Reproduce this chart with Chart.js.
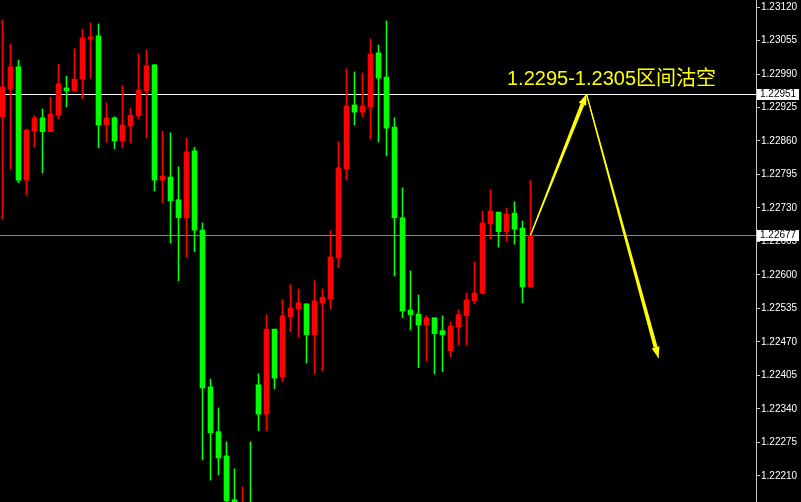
<!DOCTYPE html>
<html><head><meta charset="utf-8">
<script src="https://cdn.jsdelivr.net/npm/chart.js@4/dist/chart.umd.min.js"></script>
<style>html,body{margin:0;padding:0;background:#000;overflow:hidden}#wrap{width:801px;height:502px}</style>
</head><body><div id="wrap"><canvas id="c" width="801" height="502"></canvas></div>
<script>
// ---- data ----
const opens = [1.22907,1.22961,1.23004,1.22784,1.22879,1.22905,1.22878,1.22910,1.22963,1.22957,
1.22980,1.23058,1.23064,1.22891,1.22905,1.22860,1.22889,1.22909,1.22957,1.23008,
1.22784,1.22790,1.22746,1.22711,1.22841,1.22687,1.22383,1.22296,1.22249,1.22164,
1.22135,1.22152,1.22387,1.22330,1.22495,1.22402,1.22519,1.22534,1.22544,1.22484,
1.22546,1.22554,1.22633,1.22806,1.22930,1.22916,1.22926,1.23031,1.22984,1.22887,
1.22711,1.22532,1.22524,1.22503,1.22517,1.22492,1.22453,1.22499,1.22521,1.22550,
1.22565,1.22699,1.22722,1.22684,1.22720,1.22691,1.22577];
const highs = [1.23095,1.23048,1.23017,1.22883,1.22909,1.22922,1.22945,1.23009,1.22986,1.23039,
1.23077,1.23089,1.23087,1.22934,1.22907,1.22967,1.22924,1.23029,1.23037,1.23008,
1.22879,1.22876,1.22810,1.22866,1.22848,1.22701,1.22398,1.22342,1.22276,1.22224,
1.22189,1.22276,1.22408,1.22523,1.22495,1.22552,1.22581,1.22573,1.22544,1.22589,
1.22573,1.22686,1.22858,1.23000,1.22994,1.22992,1.23058,1.23046,1.23093,1.22905,
1.22769,1.22608,1.22561,1.22521,1.22517,1.22521,1.22509,1.22532,1.22565,1.22625,
1.22724,1.22765,1.22722,1.22730,1.22742,1.22705,1.22783];
const lows = [1.22709,1.22806,1.22779,1.22755,1.22848,1.22798,1.22878,1.22903,1.22926,1.22957,
1.22942,1.22982,1.22847,1.22858,1.22845,1.22847,1.22856,1.22903,1.22866,1.22763,
1.22740,1.22662,1.22589,1.22635,1.22645,1.22241,1.22202,1.22212,1.22144,1.22135,
1.22125,1.22125,1.22298,1.22298,1.22379,1.22393,1.22490,1.22480,1.22429,1.22408,
1.22414,1.22534,1.22614,1.22784,1.22891,1.22907,1.22864,1.22858,1.22831,1.22598,
1.22517,1.22493,1.22420,1.22433,1.22408,1.22412,1.22441,1.22464,1.22464,1.22544,
1.22563,1.22670,1.22654,1.22666,1.22660,1.22546,1.22577];
const closes = [1.22965,1.23004,1.22784,1.22881,1.22905,1.22878,1.22912,1.22971,1.22957,1.22980,
1.23060,1.23062,1.22891,1.22905,1.22860,1.22891,1.22910,1.22959,1.23006,1.22784,
1.22792,1.22744,1.22711,1.22839,1.22687,1.22381,1.22294,1.22245,1.22162,1.22152,
1.22154,1.22135,1.22330,1.22495,1.22400,1.22521,1.22536,1.22546,1.22484,1.22550,
1.22557,1.22635,1.22808,1.22928,1.22916,1.22928,1.23029,1.22982,1.22885,1.22711,
1.22530,1.22523,1.22503,1.22517,1.22486,1.22484,1.22501,1.22523,1.22552,1.22565,
1.22701,1.22724,1.22684,1.22718,1.22689,1.22577,1.22677];
const yTicks = [1.23120,1.23055,1.22990,1.22925,1.22860,1.22795,1.22730,1.22665,
1.22600,1.22535,1.22470,1.22405,1.22340,1.22275,1.22210];
const priceLines = [1.22951, 1.22677];
const arrowX = [66, 73, 82];
const arrowY = [1.22677, 1.22951, 1.22439];
const noteText = '1.2295-1.2305区间沽空';

// ---- styling / layout ----
const UP = '#ff0000', DOWN = '#00ff00';
const idx = opens.map((_, i) => i);
const colors = idx.map(i => closes[i] > opens[i] ? UP : DOWN);
const AXIS_W = 45;
const PX_PER_BAR = 8;
const xMin = -2.5 / PX_PER_BAR;
const xMax = xMin + (801 - AXIS_W) / PX_PER_BAR;
const yMax = 1.231336, yMin = 1.221595;
const tickFont = {family: '"Liberation Sans",Arial,sans-serif', size: 10};

const bgPlugin = {
  id: 'bg',
  beforeDraw(chart) {
    const c = chart.ctx; c.save(); c.fillStyle = '#000'; c.fillRect(0, 0, chart.width, chart.height); c.restore();
  }
};

const linesPlugin = {
  id: 'priceLines',
  beforeDatasetsDraw(chart) {
    const c = chart.ctx, y = chart.scales.y, a = chart.chartArea;
    c.save();
    priceLines.forEach((v, k) => {
      const py = Math.round(y.getPixelForValue(v)) + 0.5;
      c.strokeStyle = k === 0 ? '#ffffff' : '#778899';
      c.lineWidth = 1;
      c.beginPath(); c.moveTo(a.left, py); c.lineTo(a.right, py); c.stroke();
    });
    c.restore();
  },
  afterDraw(chart) {
    const c = chart.ctx, y = chart.scales.y, a = chart.chartArea;
    c.save();
    priceLines.forEach((v) => {
      const py = Math.round(y.getPixelForValue(v));
      c.fillStyle = '#ffffff';
      c.fillRect(a.right + 1, py - 5, 42, 11);
      c.fillStyle = '#000000';
      c.font = tickFont.size + 'px ' + tickFont.family;
      c.textBaseline = 'middle'; c.textAlign = 'left';
      c.fillText(v.toFixed(5), a.right + 4, py + 0.5);
    });
    c.restore();
  }
};

const arrowPlugin = {
  id: 'arrows',
  afterDatasetsDraw(chart) {
    const meta = chart.getDatasetMeta(0);
    const pts = meta.data.map(p => ({x: p.x, y: p.y}));
    const c = chart.ctx;
    c.save();
    c.fillStyle = '#ffff00';
    for (let i = 0; i < pts.length - 1; i++) {
      const p0 = pts[i], p1 = pts[i + 1];
      const dx = p1.x - p0.x, dy = p1.y - p0.y, len = Math.hypot(dx, dy);
      const ux = dx / len, uy = dy / len, nx = -uy, ny = ux;
      const headLen = 11, hw = 4, w0 = 0.6, w1 = 2;
      const bx = p1.x - ux * headLen, by = p1.y - uy * headLen;
      c.beginPath();
      c.moveTo(p0.x + nx * w0, p0.y + ny * w0);
      c.lineTo(bx + nx * w1, by + ny * w1);
      c.lineTo(bx - nx * w1, by - ny * w1);
      c.lineTo(p0.x - nx * w0, p0.y - ny * w0);
      c.closePath(); c.fill();
      c.beginPath();
      c.moveTo(p1.x, p1.y);
      c.lineTo(bx + nx * hw, by + ny * hw);
      c.lineTo(bx - nx * hw, by - ny * hw);
      c.closePath(); c.fill();
    }
    c.restore();
  }
};

const textPlugin = {
  id: 'note',
  afterDraw(chart) {
    const c = chart.ctx;
    c.save();
    c.fillStyle = '#ffff00';
    c.font = '20px "Liberation Sans", Arial, "Noto Sans CJK SC", sans-serif';
    c.textBaseline = 'alphabetic'; c.textAlign = 'left';
    c.fillText(noteText, 507, 85);
    c.restore();
  }
};

new Chart(document.getElementById('c'), {
  type: 'bar',
  data: {
    datasets: [
      {
        type: 'line',
        data: arrowX.map((x, i) => ({x, y: arrowY[i]})),
        borderColor: '#ffff00', borderWidth: 1, pointRadius: 0, tension: 0, fill: false
      },
      {
        data: idx.map(i => ({x: i, y: [opens[i], closes[i]]})),
        backgroundColor: colors, borderWidth: 0, barThickness: 5, grouped: false
      },
      {
        data: idx.map(i => ({x: i, y: [lows[i], highs[i]]})),
        backgroundColor: colors, borderWidth: 0, barThickness: 1, grouped: false
      }
    ]
  },
  options: {
    responsive: false, animation: false, devicePixelRatio: 1, events: [],
    layout: {padding: 0},
    plugins: {legend: {display: false}, tooltip: {enabled: false}},
    scales: {
      x: {type: 'linear', min: xMin, max: xMax, display: false, offset: false, grid: {offset: false}},
      y: {
        type: 'linear', position: 'right', min: yMin, max: yMax,
        afterBuildTicks: s => { s.ticks = yTicks.map(v => ({value: v})); },
        afterFit: s => { s.width = AXIS_W; s.paddingTop = 0; s.paddingBottom = 0; },
        ticks: {color: '#ffffff', font: tickFont, padding: 1, autoSkip: false, maxRotation: 0,
                callback: v => Number(v).toFixed(5)},
        grid: {display: true, drawOnChartArea: false, drawTicks: true, tickLength: 4, color: '#c8c8c8'},
        border: {display: true, color: '#c8c8c8'}
      }
    }
  },
  plugins: [bgPlugin, linesPlugin, arrowPlugin, textPlugin]
});
</script></body></html>
